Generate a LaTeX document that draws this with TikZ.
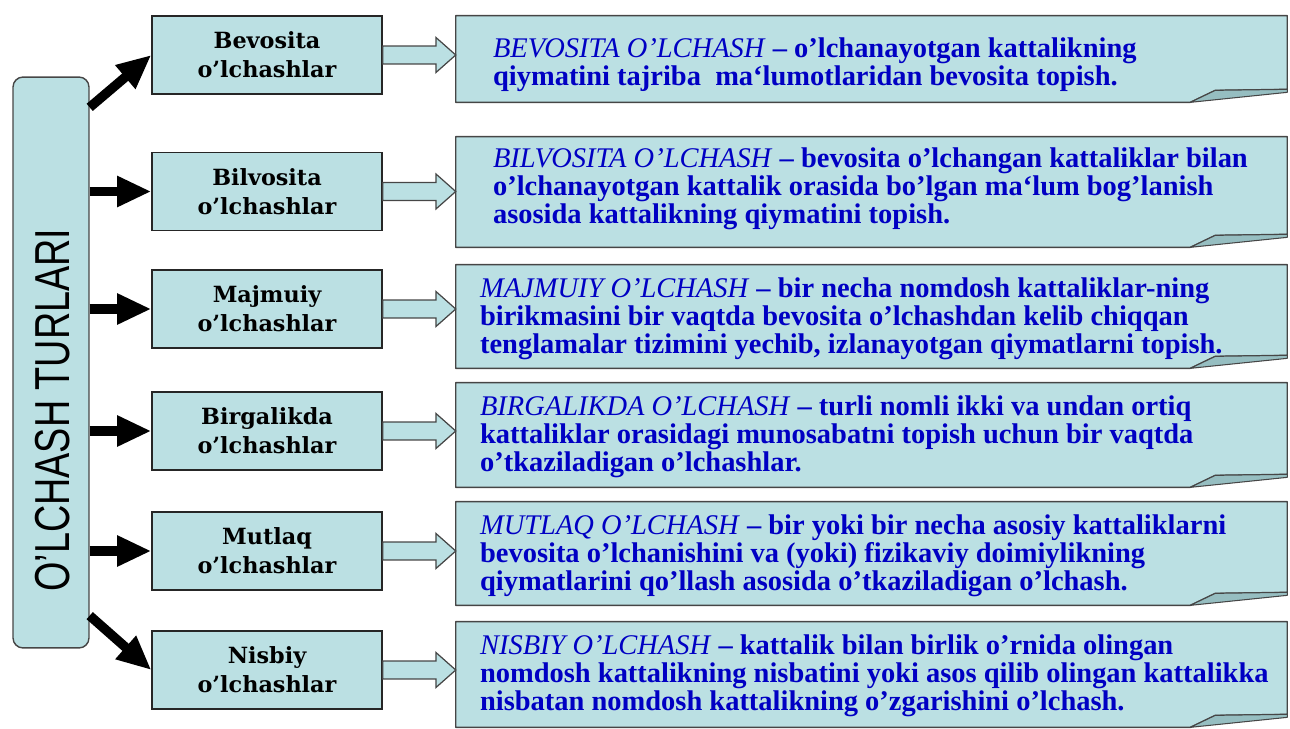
\documentclass[tikz,border=0pt]{standalone}
\usepackage{fontspec}
\setmainfont{Liberation Serif}
\setsansfont{Liberation Sans}
\newfontfamily\labelfont{DejaVu Serif}
\usetikzlibrary{positioning,calc,arrows.meta,backgrounds}

\definecolor{boxfill}{RGB}{187,224,227}
\definecolor{flapfill}{RGB}{150,190,193}
\definecolor{edgegray}{RGB}{70,70,70}
\definecolor{defblue}{RGB}{0,0,195}

\tikzset{
    mainbox/.style={draw=edgegray, fill=boxfill, line width=0.8pt, rounded corners=0.2cm,
        minimum width=1.52cm, minimum height=11.42cm},
    kindbox/.style={draw=black!85, fill=boxfill, line width=0.8pt, minimum width=4.6cm,
        minimum height=1.56cm, align=center, font=\labelfont\bfseries\fontsize{12.7}{16.4}\selectfont},
    defbox/.style={minimum width=16.62cm, minimum height=#1, inner sep=0pt},
    deftext/.style={anchor=west, align=left, inner sep=0pt, text=defblue,
        font=\bfseries\fontsize{16.2}{16}\selectfont},
    paper/.style={draw=edgegray, fill=boxfill, line width=0.8pt, line join=round},
    flap/.style={draw=edgegray, fill=flapfill, line width=0.6pt, line join=round},
    thickarrow/.style={line width=5.4pt, -{Triangle[length=19.5pt, width=16.5pt]}},
    hollowarrow/.style={draw=edgegray, fill=boxfill, line width=0.7pt,
        to path={let \p1=(\tikztostart), \p2=(\tikztotarget) in
            (\x1,\y1+5.1pt) -- (\x2-11.3pt,\y1+5.1pt) -- (\x2-11.3pt,\y1+10pt) -- (\x2,\y1)
            -- (\x2-11.3pt,\y1-10pt) -- (\x2-11.3pt,\y1-5.1pt) -- (\x1,\y1-5.1pt) -- cycle}}
}
\newcommand{\term}[1]{\textit{\mdseries #1}}

\begin{document}
\begin{tikzpicture}[x=0.02cm, y=-0.02cm]
    \useasboundingbox (0,0) rectangle (1290,729);

    % left column
    \node[mainbox] (turlar) at (51,362.5) {};
    \node[rotate=90, font=\sffamily\fontsize{21.5}{21.5}\selectfont] (title) at (53,410)
        {\scalebox{1}[1.3]{O’LCHASH TURLARI}};

    % kinds of measurement
    \node[kindbox] (m1) at (267,55) {Bevosita\\o’lchashlar};
    \node[kindbox] (m2) at (267,191.5) {Bilvosita\\o’lchashlar};
    \node[kindbox] (m3) at (267,309) {Majmuiy\\o’lchashlar};
    \node[kindbox] (m4) at (267,431) {Birgalikda\\o’lchashlar};
    \node[kindbox] (m5) at (267,551) {Mutlaq\\o’lchashlar};
    \node[kindbox] (m6) at (267,670) {Nisbiy\\o’lchashlar};

    % definitions
    \node[defbox=1.72cm] (d1) at (871.5,59) {};
    \node[defbox=2.2cm] (d2) at (871.5,192) {};
    \node[defbox=2.06cm] (d3) at (871.5,316.5) {};
    \node[defbox=2.08cm] (d4) at (871.5,435) {};
    \node[defbox=2.06cm] (d5) at (871.5,553.5) {};
    \node[defbox=2.1cm] (d6) at (871.5,674.5) {};

    \node[deftext] (t1) at ($(d1.west)+(37,6)$)
        {\term{BEVOSITA O’LCHASH} – o’lchanayotgan kattalikning\\
         qiymatini tajriba\ \ ma‘lumotlaridan bevosita topish.};
    \node[deftext] (t2) at ($(d2.west)+(37,-3)$)
        {\term{BILVOSITA O’LCHASH} – bevosita o’lchangan kattaliklar bilan\\
         o’lchanayotgan kattalik orasida bo’lgan ma‘lum bog’lanish\\
         asosida kattalikning qiymatini topish.};
    \node[deftext] (t3) at ($(d3.west)+(24,2.5)$)
        {\term{MAJMUIY O’LCHASH} – bir necha nomdosh kattaliklar-ning\\
         birikmasini bir vaqtda bevosita o’lchashdan kelib chiqqan\\
         tenglamalar tizimini yechib, izlanayotgan qiymatlarni topish.};
    \node[deftext] (t4) at ($(d4.west)+(24,2)$)
        {\term{BIRGALIKDA O’LCHASH} – turli nomli ikki va undan ortiq\\
         kattaliklar orasidagi munosabatni topish uchun bir vaqtda\\
         o’tkaziladigan o’lchashlar.};
    \node[deftext] (t5) at ($(d5.west)+(24,2.5)$)
        {\term{MUTLAQ O’LCHASH} – bir yoki bir necha asosiy kattaliklarni\\
         bevosita o’lchanishini va (yoki) fizikaviy doimiylikning\\
         qiymatlarini qo’llash asosida o’tkaziladigan o’lchash.};
    \node[deftext] (t6) at ($(d6.west)+(24,1.5)$)
        {\term{NISBIY O’LCHASH} – kattalik bilan birlik o’rnida olingan\\
         nomdosh kattalikning nisbatini yoki asos qilib olingan kattalikka\\
         nisbatan nomdosh kattalikning o’zgarishini o’lchash.};

    % sheets with a turned-up corner
    \begin{scope}[on background layer]
        \foreach \i in {1,...,6}{
            \draw[paper] (d\i.south west) -- (d\i.north west) -- (d\i.north east)
                -- ($(d\i.south east)+(0,-13)$) -- ($(d\i.south east)+(-72,-12)$)
                -- ($(d\i.south east)+(-97,0)$) -- cycle;
            \draw[flap] ($(d\i.south east)+(-97,0)$) -- ($(d\i.south east)+(-72,-12)$)
                -- ($(d\i.south east)+(0,-13)$) -- ($(d\i.south east)+(0,-10)$) -- cycle;
        }
    \end{scope}

    % connectors
    \draw[thickarrow] ($(turlar.north east)+(0,31)$) -- (m1.west);
    \foreach \i in {2,...,5}
        \draw[thickarrow] (turlar.east |- m\i.west) -- (m\i.west);
    \draw[thickarrow] ($(turlar.south east)+(0,-33)$) -- (m6.west);

    \foreach \i in {1,...,6}
        \draw[hollowarrow] (m\i.east) to (d\i.west);
\end{tikzpicture}
\end{document}
